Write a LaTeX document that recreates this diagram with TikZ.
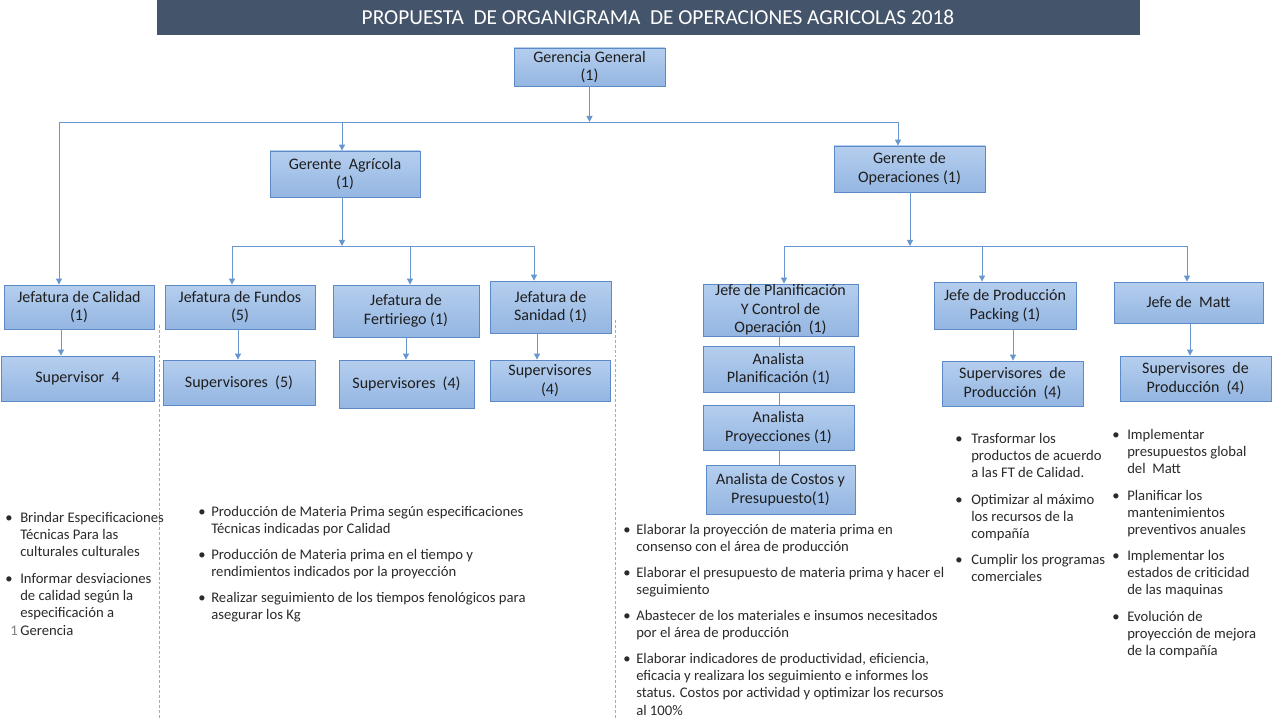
\documentclass[tikz,border=0pt]{standalone}
\usepackage{fontspec}
\setmainfont{Carlito}
\usetikzlibrary{arrows.meta}
\definecolor{hdr}{HTML}{44546A}
\definecolor{boxtop}{HTML}{B5CEEE}
\definecolor{boxbot}{HTML}{94B6E2}
\definecolor{boxline}{HTML}{5B8AC6}
\definecolor{conn}{HTML}{6797CE}
\definecolor{txt}{HTML}{1E1E1E}
\definecolor{btxt}{HTML}{2A2A2A}
\definecolor{sep}{HTML}{E39A5C}
\newcommand{\ls}[1]{\begin{tabular}[t]{@{}l@{}}#1\end{tabular}}
\begin{document}
\begin{tikzpicture}[x=0.75pt,y=-0.75pt,
  box/.style={draw=boxline, line width=0.6pt, top color=boxtop, bottom color=boxbot,
    align=center, inner sep=1pt, text=txt, font=\fontsize{12}{14}\selectfont},
  sz/.style 2 args={minimum width=#1*0.75pt, minimum height=#2*0.75pt},
  conline/.style={draw=conn, line width=0.7pt},
  arr/.style={conline, -{Triangle[length=4.5pt,width=4.5pt]}},
  bt/.style={inner sep=0pt, text=btxt, font=\fontsize{11}{13.1}\selectfont, anchor=base west},
  sepline/.style={draw=sep, line width=0.6pt, dash pattern=on 2.2pt off 1.5pt}]
\useasboundingbox (0,0) rectangle (1280,720);
% header
\fill[hdr] (157,0) rectangle (1140,35);
\node[text=white, font=\fontsize{16}{19}\selectfont] (title) at (658,17.5) {PROPUESTA\ \ DE ORGANIGRAMA\ \ DE OPERACIONES AGRICOLAS 2018};
% boxes
\node[box, sz={151}{38}] (gg) at (589.5,67) {Gerencia General\\(1)};
\node[box, sz={150}{46}] (ga) at (345,174) {Gerente\ \ Agrícola\\(1)};
\node[box, sz={151}{46}] (go) at (909.5,169) {Gerente de\\Operaciones (1)};
\node[box, sz={150}{44}] (jc) at (79,307) {Jefatura de Calidad\\(1)};
\node[box, sz={150}{44}] (jf) at (240,307) {Jefatura de Fundos\\(5)};
\node[box, sz={146}{52}] (jr) at (406,311) {Jefatura de\\Fertiriego (1)};
\node[box, sz={121}{52}] (js) at (550.5,307) {Jefatura de\\Sanidad (1)};
\node[box, sz={153}{45}] (sc) at (77.5,378.5) {Supervisor\ \ 4};
\node[box, sz={152}{45}] (sf) at (239,382.5) {Supervisores\ \ (5)};
\node[box, sz={135}{48}] (sr) at (406.5,384) {Supervisores\ \ (4)};
\node[box, sz={120}{41}] (ss) at (550,380.5) {Supervisores\\(4)};
\node[box, sz={155}{52}, inner sep=0pt] (jp) at (780.5,310) {Jefe de Planificación\\Y Control de\\Operación\ \ (1)};
\node[box, sz={151}{46}] (ap) at (778.5,369) {Analista\\Planificación (1)};
\node[box, sz={151}{45}] (apr) at (778.5,427.5) {Analista\\Proyecciones (1)};
\node[box, sz={149}{49}] (ac) at (780.5,489.5) {Analista de Costos y\\Presupuesto(1)};
\node[box, sz={142}{47}] (jpk) at (1005,305.5) {Jefe de Producción\\Packing (1)};
\node[box, sz={141}{45}] (spk) at (1012.5,383.5) {Supervisores\ \ de\\Producción\ \ (4)};
\node[box, sz={149}{41}] (jm) at (1188.5,302.5) {Jefe de\ \ Matt};
\node[box, sz={151}{45}] (sm) at (1195.5,378.5) {Supervisores\ \ de\\Producción\ \ (4)};
% top bus
\coordinate (b0) at (59,122);
\coordinate (b1) at (342,122);
\coordinate (b2) at (898,122);
\draw[conline] (b0) -- (b2);
\draw[arr] (gg.south) -- (gg.south |- b0);
\draw[arr] (b0) -- (b0 |- jc.north);
\draw[arr] (b1) -- (b1 |- ga.north);
\draw[arr] (b2) -- (b2 |- go.north);
% agricola bus
\coordinate (c0) at (232,246);
\coordinate (c1) at (410,246);
\coordinate (c2) at (534,246);
\draw[conline] (c0) -- (c2);
\draw[arr] (ga.south -| b1) -- (b1 |- c0);
\draw[arr] (c0) -- (c0 |- jf.north);
\draw[arr] (c1) -- (c1 |- jr.north);
\draw[arr] (c2) -- (c2 |- js.north);
% operaciones bus
\coordinate (d0) at (784,246);
\coordinate (d1) at (982,246);
\coordinate (d2) at (1187,246);
\coordinate (dg) at (910,246);
\draw[conline] (d0) -- (d2);
\draw[arr] (go.south -| dg) -- (dg);
\draw[arr] (d0) -- (d0 |- jp.north);
\draw[arr] (d1) -- (d1 |- jpk.north);
\draw[arr] (d2) -- (d2 |- jm.north);
% jefatura to supervisors
\coordinate (e1) at (61,0);
\coordinate (e2) at (238,0);
\coordinate (e3) at (406,0);
\coordinate (e4) at (537,0);
\coordinate (e5) at (1013,0);
\coordinate (e6) at (1190,0);
\draw[arr] (jc.south -| e1) -- (sc.north -| e1);
\draw[arr] (jf.south -| e2) -- (sf.north -| e2);
\draw[arr] (jr.south -| e3) -- (sr.north -| e3);
\draw[arr] (js.south -| e4) -- (ss.north -| e4);
\draw[arr] (jpk.south -| e5) -- (spk.north -| e5);
\draw[arr] (jm.south -| e6) -- (sm.north -| e6);
% planning chain
\coordinate (f) at (779,0);
\draw[conline] (jp.south -| f) -- (ap.north -| f);
\draw[conline] (ap.south -| f) -- (apr.north -| f);
\draw[conline] (apr.south -| f) -- (ac.north -| f);
% separators
\draw[sepline] (159,325) -- (159,720);
\draw[sepline] (615,320) -- (615,720);
% bullets: Calidad
\node[bt] (c1b) at (5,522) {•};
\node[bt] (c1t) at (20,522) {\ls{Brindar Especificaciones\\Técnicas Para las\\culturales culturales}};
\node[bt] (c2b) at (5,583) {•};
\node[bt] (c2t) at (20,583) {\ls{Informar desviaciones\\de calidad según la\\especificación a\\Gerencia}};
\node[text=gray, font=\fontsize{11}{13}\selectfont, anchor=base west, inner sep=0pt] (num) at (10,635) {1};
% bullets: Fundos
\node[bt] (f1b) at (198,516) {•};
\node[bt] (f1t) at (211,516) {\ls{Producción de Materia Prima según especificaciones\\Técnicas indicadas por Calidad}};
\node[bt] (f2b) at (198,559) {•};
\node[bt] (f2t) at (211,559) {\ls{Producción de Materia prima en el tiempo y\\rendimientos indicados por la proyección}};
\node[bt] (f3b) at (198,602) {•};
\node[bt] (f3t) at (211,602) {\ls{Realizar seguimiento de los tiempos fenológicos para\\asegurar los Kg}};
% bullets: Planificacion
\node[bt] (p1b) at (623,534) {•};
\node[bt] (p1t) at (636,534) {\ls{Elaborar la proyección de materia prima en\\consenso con el área de producción}};
\node[bt] (p2b) at (623,577) {•};
\node[bt] (p2t) at (636,577) {\ls{Elaborar el presupuesto de materia prima y hacer el\\seguimiento}};
\node[bt] (p3b) at (623,620) {•};
\node[bt] (p3t) at (636,620) {\ls{Abastecer de los materiales e insumos necesitados\\por el área de producción}};
\node[bt] (p4b) at (623,663) {•};
\node[bt] (p4t) at (636,663) {\ls{Elaborar indicadores de productividad, eficiencia,\\eficacia y realizara los seguimiento e informes los\\status. Costos por actividad y optimizar los recursos\\al 100\%}};
% bullets: Packing
\node[bt] (k1b) at (955,443) {•};
\node[bt] (k1t) at (971,443) {\ls{Trasformar los\\productos de acuerdo\\a las FT de Calidad.}};
\node[bt] (k2b) at (955,504) {•};
\node[bt] (k2t) at (971,504) {\ls{Optimizar al máximo\\los recursos de la\\compañía}};
\node[bt] (k3b) at (955,564) {•};
\node[bt] (k3t) at (971,564) {\ls{Cumplir los programas\\comerciales}};
% bullets: Matt
\node[bt] (m1b) at (1112,439) {•};
\node[bt] (m1t) at (1127,439) {\ls{Implementar\\presupuestos global\\del\ \ Matt}};
\node[bt] (m2b) at (1112,500) {•};
\node[bt] (m2t) at (1127,500) {\ls{Planificar los\\mantenimientos\\preventivos anuales}};
\node[bt] (m3b) at (1112,560) {•};
\node[bt] (m3t) at (1127,560) {\ls{Implementar los\\estados de criticidad\\de las maquinas}};
\node[bt] (m4b) at (1112,621) {•};
\node[bt] (m4t) at (1127,621) {\ls{Evolución de\\proyección de mejora\\de la compañía}};
\end{tikzpicture}
\end{document}
